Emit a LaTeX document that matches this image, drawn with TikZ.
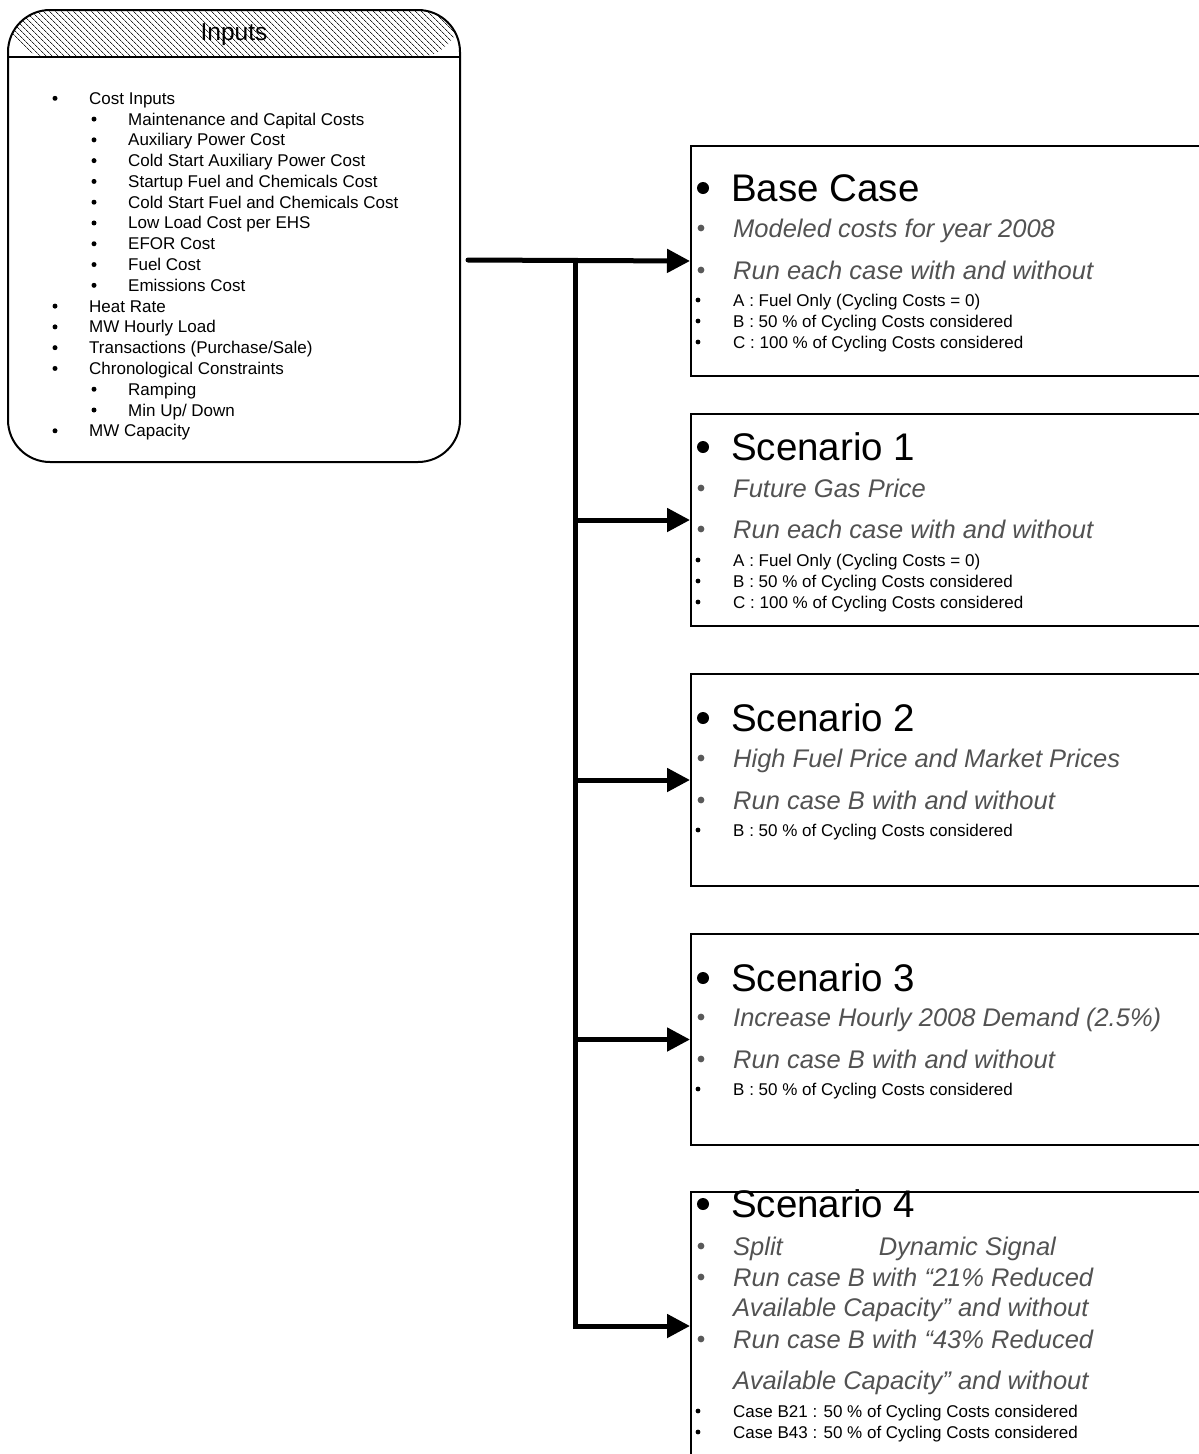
\documentclass[tikz,border=0pt]{standalone}
\usepackage{fontspec}
\setmainfont{Liberation Sans}
\usetikzlibrary{arrows.meta,patterns.meta}
\definecolor{subgray}{gray}{0.32}

\begin{document}
\begin{tikzpicture}[x=1pt,y=-1pt,
    inputbox/.style={draw, line width=2pt, rounded corners=42pt, minimum width=452pt,
      minimum height=452pt, inner sep=0pt},
    casebox/.style={draw, line width=2pt, anchor=north west, minimum width=560pt, inner sep=0pt},
    headtxt/.style={anchor=base west, inner sep=0pt, font=\fontsize{38.5}{42}\selectfont},
    subtxt/.style={anchor=base west, inner sep=0pt, text=subgray, font=\fontsize{25.5}{28}\selectfont\itshape},
    itemtxt/.style={anchor=base west, inner sep=0pt, font=\fontsize{17}{20}\selectfont},
    flow/.style={line width=5pt, -{Triangle[length=23pt,width=23pt]}}]
    \useasboundingbox (0,0) rectangle (1199,1454);
    \clip (0,0) rectangle (1199,1454);

    % inputs box with hatched header
    \node[inputbox, path picture={
        \fill[pattern={Lines[angle=-45,distance=4pt,line width=0.8pt]}, pattern color=black!85]
          (path picture bounding box.north west) rectangle ([yshift=-47pt]path picture bounding box.north east);}]
      (inputs) at (234,236) {};
    \draw[line width=2pt] (8,57) -- (460,57);
    \node[anchor=base, inner sep=0pt, font=\fontsize{24.5}{28}\selectfont] (title) at (234,40) {Inputs};

    \foreach \lv/\txt [count=\i] in {1/Cost Inputs, 2/Maintenance and Capital Costs, 2/Auxiliary Power Cost,
        2/Cold Start Auxiliary Power Cost, 2/Startup Fuel and Chemicals Cost, 2/Cold Start Fuel and Chemicals Cost,
        2/Low Load Cost per EHS, 2/EFOR Cost, 2/Fuel Cost, 2/Emissions Cost, 1/Heat Rate, 1/MW Hourly Load,
        1/{Transactions (Purchase/Sale)}, 1/Chronological Constraints, 2/Ramping, 2/{Min Up/ Down}, 1/MW Capacity}{
      \pgfmathsetmacro\yy{104.3+20.78*(\i-1)}
      \pgfmathsetmacro\bx{\lv==1 ? 55 : 94}
      \pgfmathsetmacro\tx{\lv==1 ? 89 : 128}
      \fill (\bx,\yy-6) circle[radius=2.5pt];
      \node[itemtxt] (in\i) at (\tx,\yy) {\txt};
    }

    % base case
    \node[casebox, minimum height=230pt] (base) at (690,145) {};
    \node[headtxt] (bh) at (731,201) {Base Case};
    \node[subtxt] (bs1) at (733,237) {Modeled costs for year 2008};
    \node[subtxt] (bs2) at (733,279) {Run each case with and without};
    \node[itemtxt] (ba) at (733,306) {A : Fuel Only (Cycling Costs = 0)};
    \node[itemtxt] (bb) at (733,327) {B : 50 \% of Cycling Costs considered};
    \node[itemtxt] (bc) at (733,348) {C : 100 \% of Cycling Costs considered};

    % scenario 1
    \node[casebox, minimum height=212pt] (sc1) at (690,413) {};
    \node[headtxt] (s1h) at (731,460) {Scenario 1};
    \node[subtxt] (s1s1) at (733,497) {Future Gas Price};
    \node[subtxt] (s1s2) at (733,538) {Run each case with and without};
    \node[itemtxt] (s1a) at (733,566) {A : Fuel Only (Cycling Costs = 0)};
    \node[itemtxt] (s1b) at (733,587) {B : 50 \% of Cycling Costs considered};
    \node[itemtxt] (s1c) at (733,608) {C : 100 \% of Cycling Costs considered};

    % scenario 2
    \node[casebox, minimum height=212pt] (sc2) at (690,673) {};
    \node[headtxt] (s2h) at (731,731) {Scenario 2};
    \node[subtxt] (s2s1) at (733,767) {High Fuel Price and Market Prices};
    \node[subtxt] (s2s2) at (733,809) {Run case B with and without};
    \node[itemtxt] (s2b) at (733,836) {B : 50 \% of Cycling Costs considered};

    % scenario 3
    \node[casebox, minimum height=211pt] (sc3) at (690,933) {};
    \node[headtxt] (s3h) at (731,991) {Scenario 3};
    \node[subtxt] (s3s1) at (733,1026) {Increase Hourly 2008 Demand (2.5\%)};
    \node[subtxt] (s3s2) at (733,1068) {Run case B with and without};
    \node[itemtxt] (s3b) at (733,1095) {B : 50 \% of Cycling Costs considered};

    % scenario 4
    \node[casebox, minimum height=268pt] (sc4) at (690,1191) {};
    \node[headtxt] (s4h) at (731,1217) {Scenario 4};
    \node[subtxt] (s4s1) at (733,1255) {Split\hspace*{96pt}Dynamic Signal};
    \node[subtxt] (s4s2) at (733,1286) {Run case B with “21\% Reduced};
    \node[subtxt] (s4s3) at (733,1316) {Available Capacity” and without};
    \node[subtxt] (s4s4) at (733,1348) {Run case B with “43\% Reduced};
    \node[subtxt] (s4s5) at (733,1389) {Available Capacity” and without};
    \node[itemtxt] (s4a) at (733,1417) {Case B21 : 50 \% of Cycling Costs considered};
    \node[itemtxt] (s4b) at (733,1438) {Case B43 : 50 \% of Cycling Costs considered};

    % bullets
    \foreach \y in {201,460,731,991,1217} \fill (703,\y-13) circle[radius=6pt];
    \foreach \y in {237,279,497,538,767,809,1026,1068,1255,1286,1348}
      \fill[black!65] (701,\y-9) circle[radius=3.4pt];
    \foreach \y in {306,327,348,566,587,608,836,1095,1417,1438} \fill (698,\y-6) circle[radius=2.4pt];

    % connectors
    \coordinate (start) at (468,260);
    \coordinate (split) at (575,260);
    \draw[flow, line cap=round] (start) -- (base.west);
    \draw[flow] (split) |- (sc4.west);
    \foreach \b in {sc1,sc2,sc3} \draw[flow] (split |- \b.west) -- (\b.west);
\end{tikzpicture}
\end{document}
